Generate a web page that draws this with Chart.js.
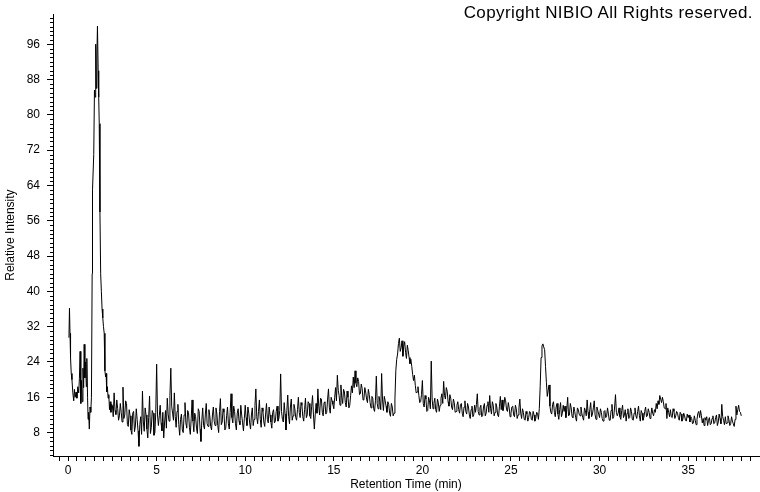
<!DOCTYPE html>
<html>
<head>
<meta charset="utf-8">
<script src="https://cdn.jsdelivr.net/npm/chart.js@4"></script>
<style>
  html, body { margin: 0; padding: 0; background: #fff; }
  #wrap { position: relative; width: 760px; height: 492px; }
  #copyright {
    position: absolute; top: 3px; right: 7px;
    font: 17px "Liberation Sans", Arial, sans-serif; line-height: 20px;
    letter-spacing: 0.4px; color: #000; white-space: nowrap;
  }
</style>
</head>
<body>
<div id="wrap">
  <canvas id="myChart" width="760" height="492"></canvas>
  <div id="copyright">Copyright NIBIO All Rights reserved.</div>
</div>
<script>
// start of the run, irregular samples (solvent front + big peak)
const earlyTimes = [0.05, 0.08, 0.11, 0.14, 0.18, 0.22, 0.27, 0.32, 0.36, 0.40, 0.45, 0.50, 0.55, 0.60, 0.64, 0.68, 0.72, 0.76, 0.80, 0.84, 0.88, 0.91, 0.95, 0.99, 1.03, 1.06, 1.10, 1.13, 1.16, 1.20, 1.24, 1.28, 1.32, 1.36, 1.38, 1.45, 1.49, 1.53, 1.56, 1.60, 1.63, 1.66, 1.70, 1.73, 1.76, 1.80, 1.84, 1.88, 1.92, 1.96, 2.00, 2.04, 2.08, 2.12, 2.15, 2.18, 2.22, 2.26, 2.30, 2.34, 2.38, 2.42, 2.46];
const earlyValues = [29.5, 36.2, 30.5, 25.0, 21.4, 20.0, 17.0, 15.2, 17.8, 16.0, 17.2, 15.8, 18.4, 17.0, 20.2, 26.4, 14.6, 19.8, 15.0, 22.6, 18.2, 28.0, 20.4, 24.0, 18.4, 24.8, 16.0, 11.0, 12.6, 8.8, 13.8, 12.6, 16.0, 44.0, 63.0, 71.0, 85.6, 84.0, 96.0, 86.0, 94.0, 100.1, 90.0, 84.0, 78.0, 58.0, 44.0, 40.0, 36.0, 34.0, 32.0, 30.5, 22.0, 20.6, 21.4, 17.2, 18.4, 15.8, 16.6, 13.2, 15.0, 12.6, 14.4];

// rest of the run: readings at 2.5, 2.6, ... min
const baseStart = 2.5;
const baseStep = 0.1;
const baseValues = [
  14.2, 17.0, 12.1, 13.5, 11.8,
  12.6, 18.3, 12.0, 14.6, 9.4, 11.8, 7.6, 12.8, 9.5, 11.0,
  4.9, 11.6, 17.4, 8.3, 12.0, 6.8, 16.3, 9.2, 12.4, 8.0,
  23.5, 9.6, 14.2, 8.4, 6.8, 13.0, 15.8, 10.6, 22.6, 12.4,
  17.0, 9.2, 14.4, 7.4, 12.2, 8.0, 14.8, 9.0, 12.6, 7.6,
  15.4, 8.2, 11.6, 7.8, 12.8, 6.0, 13.6, 8.8, 14.6, 9.4,
  11.8, 8.6, 13.8, 9.6, 12.2, 8.0, 15.7, 10.4, 12.6, 9.0,
  13.8, 8.8, 16.8, 10.2, 12.8, 8.6, 13.4, 9.8, 12.0, 8.4,
  14.2, 9.6, 12.4, 8.8, 13.6, 11.0, 17.9, 10.0, 15.4, 9.2,
  12.8, 9.4, 14.6, 10.2, 12.0, 9.0, 13.2, 10.6, 14.0, 11.2,
  21.3, 11.0, 14.8, 8.6, 16.5, 10.0, 15.6, 11.8, 13.4, 10.8,
  16.0, 11.4, 14.2, 10.6, 15.8, 12.0, 14.6, 11.2, 16.4, 8.8,
  14.6, 17.9, 12.0, 15.6, 11.8, 15.0, 12.6, 17.9, 12.4, 15.2,
  13.4, 18.2, 21.0, 16.4, 18.8, 14.6, 17.2, 13.8, 16.0, 14.2,
  18.6, 20.6, 22.0, 18.4, 19.6, 16.8, 18.0, 15.6, 17.2, 14.8,
  16.6, 13.6, 15.8, 12.8, 20.8, 13.4, 15.0, 21.4, 13.0, 15.2,
  12.6, 14.4, 11.7, 13.8, 12.4, 22.0, 25.8, 29.4, 27.2, 25.3,
  28.6, 24.8, 26.6, 23.6, 23.0, 19.8, 18.7, 17.2, 16.4, 15.0,
  19.8, 13.8, 15.6, 13.0, 15.2, 24.2, 13.4, 15.8, 12.6, 14.8,
  14.2, 16.8, 19.6, 15.6, 17.4, 14.0, 15.8, 13.2, 14.8, 12.8,
  15.0, 12.4, 14.6, 11.6, 15.2, 12.2, 13.8, 11.2, 14.0, 12.0,
  12.6, 16.8, 12.0, 14.2, 11.8, 14.6, 12.4, 15.0, 16.4, 12.2,
  14.2, 12.6, 13.8, 11.6, 16.2, 15.4, 14.0, 15.2, 12.8, 13.6,
  12.4, 14.0, 11.6, 13.4, 12.0, 15.6, 11.2, 12.6, 10.8, 12.2,
  11.4, 12.6, 10.8, 12.0, 11.2, 12.4, 13.5, 25.0, 28.1, 26.8,
  19.4, 17.6, 14.0, 12.2, 15.0, 11.6, 14.6, 11.0, 14.8, 12.4,
  12.8, 11.4, 16.0, 12.0, 13.6, 11.4, 12.8, 10.6, 13.2, 11.8,
  12.4, 10.8, 13.0, 15.4, 11.2, 14.8, 12.2, 15.2, 11.0, 13.0,
  11.4, 12.6, 10.6, 13.0, 11.8, 12.2, 10.8, 14.4, 11.6, 16.6,
  11.8, 13.6, 11.0, 14.2, 12.0, 10.6, 13.4, 11.4, 12.8, 10.8,
  13.6, 11.2, 14.0, 10.6, 12.4, 11.4, 13.8, 11.8, 12.6, 12.0,
  12.4, 13.2, 14.6, 15.2, 16.4, 14.8, 15.0, 13.4, 11.2, 12.6,
  13.2, 11.4, 12.8, 11.8, 12.4, 10.8, 12.2, 11.0, 11.8, 10.6,
  11.4, 10.4, 11.2, 10.2, 10.8, 11.0, 12.8, 13.0, 10.2, 9.6,
  10.8, 9.6, 11.4, 10.0, 11.8, 10.2, 12.0, 10.4, 11.2, 14.4,
  10.8, 11.6, 10.2, 11.0, 10.0, 10.6, 9.4, 14.0, 13.2, 12.8,
  11.8
];

// the readings in between: 2.55, 2.65, ... min
const midStart = 2.55;
const midValues = [
  11.6, 13.0, 15.4, 10.8, 14.6,
  10.4, 11.2, 15.2, 9.8, 13.2, 8.6, 12.4, 8.2, 13.4, 8.4,
  9.8, 7.6, 10.4, 13.6, 8.8, 11.4, 7.8, 13.0, 7.4, 12.6,
  12.0, 11.8, 10.2, 12.6, 10.4, 9.0, 12.2, 16.4, 14.0, 10.8,
  11.6, 12.8, 9.8, 11.0, 8.6, 12.0, 10.2, 13.0, 9.2, 11.2,
  10.6, 12.4, 9.0, 13.4, 8.8, 10.8, 9.6, 12.2, 10.0, 13.2,
  9.4, 12.0, 10.6, 13.6, 9.6, 12.8, 9.8, 13.4, 8.6, 11.8,
  10.0, 12.6, 11.4, 14.0, 10.0, 12.4, 10.6, 14.2, 10.2, 11.2,
  11.4, 13.8, 10.2, 12.0, 9.6, 14.2, 11.6, 12.8, 11.0, 13.6,
  10.4, 12.2, 11.0, 13.8, 10.4, 12.6, 10.2, 12.8, 10.6, 13.0,
  12.8, 10.4, 12.2, 13.0, 11.6, 13.8, 10.8, 14.4, 11.4, 13.2,
  12.6, 14.8, 11.6, 13.2, 11.4, 15.0, 11.8, 14.0, 12.2, 12.0,
  12.4, 14.0, 15.8, 12.6, 14.8, 12.2, 15.6, 13.6, 16.0, 14.4,
  16.0, 15.2, 17.6, 14.2, 16.0, 17.8, 14.8, 17.4, 13.6, 16.4,
  17.0, 18.2, 19.2, 20.4, 16.6, 19.0, 15.4, 18.2, 15.6, 17.8,
  14.8, 16.2, 13.4, 15.2, 14.6, 16.2, 13.2, 15.4, 16.2, 14.0,
  15.0, 12.4, 14.6, 11.8, 15.6, 24.6, 28.2, 26.4, 28.8, 27.6,
  26.2, 27.8, 25.0, 24.6, 21.2, 21.0, 17.0, 18.4, 14.8, 16.6,
  14.6, 16.4, 12.8, 16.0, 13.4, 15.6, 14.6, 13.2, 15.6, 12.8,
  15.8, 14.6, 16.4, 18.2, 15.0, 16.6, 13.8, 15.6, 12.6, 14.2,
  13.2, 14.4, 12.4, 13.8, 12.8, 14.6, 12.0, 13.2, 11.6, 14.2,
  14.4, 12.8, 13.6, 11.6, 13.8, 11.8, 14.2, 12.6, 13.4, 15.0,
  11.8, 14.6, 12.0, 14.0, 13.2, 13.0, 16.0, 13.2, 14.8, 11.6,
  13.8, 12.0, 14.2, 11.2, 13.6, 12.4, 13.4, 11.0, 12.8, 10.6,
  12.8, 11.0, 12.8, 10.6, 12.6, 11.0, 18.5, 27.6, 27.4, 23.0,
  16.2, 18.8, 12.6, 14.4, 12.6, 13.8, 12.2, 13.2, 11.6, 14.2,
  14.0, 13.2, 11.8, 14.6, 11.6, 13.8, 11.4, 13.6, 12.2, 13.8,
  11.4, 13.6, 11.8, 12.6, 13.2, 11.6, 13.6, 12.0, 13.8, 12.2,
  13.4, 11.2, 12.8, 11.4, 13.6, 10.8, 13.0, 11.2, 13.8, 12.6,
  12.4, 11.6, 13.0, 11.4, 13.2, 12.4, 11.2, 13.6, 11.0, 12.4,
  11.8, 12.8, 11.8, 13.0, 10.8, 12.8, 11.6, 13.4, 11.2, 13.6,
  11.8, 12.6, 13.4, 14.4, 15.6, 16.0, 13.6, 14.6, 13.6, 11.6,
  11.6, 13.4, 11.2, 12.8, 11.4, 12.6, 10.6, 12.4, 10.8, 12.2,
  12.0, 11.6, 10.0, 11.8, 9.8, 12.4, 11.4, 11.8, 11.2, 11.4,
  11.6, 10.8, 9.8, 11.2, 10.0, 11.4, 9.6, 12.2, 10.0, 11.6,
  9.8, 10.0, 11.8, 9.6, 11.6, 10.0, 11.0, 12.0, 14.2, 12.6
];

const xLabels = [0, 5, 10, 15, 20, 25, 30, 35];
const yLabels = [8, 16, 24, 32, 40, 48, 56, 64, 72, 80, 88, 96];

const points = earlyTimes.map((t, i) => ({ x: t, y: earlyValues[i] }));
baseValues.forEach((v, i) => {
  points.push({ x: +(baseStart + i * baseStep).toFixed(2), y: v });
});
midValues.forEach((v, i) => {
  points.push({ x: +(midStart + i * baseStep).toFixed(2), y: v });
});
points.sort((a, b) => a.x - b.x);

const FONT = { family: '"Liberation Sans", Arial, sans-serif', size: 12 };

// short ticks every 1 unit on the intensity axis
const minorTicks = {
  id: 'minorTicks',
  afterDraw(chart) {
    const y = chart.scales.y;
    const ctx = chart.ctx;
    ctx.save();
    ctx.strokeStyle = '#000';
    ctx.lineWidth = 1;
    ctx.beginPath();
    for (let v = Math.ceil(y.min); v <= y.max; v++) {
      if (yLabels.includes(v)) continue;
      const py = Math.round(y.getPixelForValue(v)) + 0.5;
      ctx.moveTo(y.right - 3, py);
      ctx.lineTo(y.right, py);
    }
    ctx.stroke();
    ctx.restore();
  }
};

const chart = new Chart(document.getElementById('myChart'), {
  type: 'line',
  data: {
    datasets: [{
      data: points,
      borderColor: '#000',
      borderWidth: 1,
      pointRadius: 0,
      tension: 0,
      fill: false
    }]
  },
  options: {
    responsive: false,
    animation: false,
    events: [],
    layout: { padding: { top: 0, right: 1, bottom: 0, left: 0 } },
    plugins: { legend: { display: false }, tooltip: { enabled: false } },
    scales: {
      x: {
        type: 'linear',
        min: -0.85,
        max: 39.0,
        afterBuildTicks: (scale) => {
          const ticks = [];
          for (let i = -1; i <= 77; i++) ticks.push({ value: i * 0.5 });
          scale.ticks = ticks;
        },
        afterFit: (scale) => { scale.height = 36; },
        ticks: {
          autoSkip: false,
          maxRotation: 0,
          padding: 2,
          color: '#000',
          font: FONT,
          callback: (value) => xLabels.includes(value) ? String(value) : ''
        },
        grid: { drawOnChartArea: false, tickLength: 5, color: '#000' },
        border: { color: '#000', width: 1 },
        title: {
          display: true,
          text: 'Retention Time (min)',
          color: '#000',
          font: FONT,
          padding: 0
        }
      },
      y: {
        min: 2.7,
        max: 102.8,
        afterBuildTicks: (scale) => {
          scale.ticks = yLabels.map(v => ({ value: v }));
        },
        afterFit: (scale) => { scale.width = 53; },
        ticks: { padding: 7, color: '#000', font: FONT },
        grid: { drawOnChartArea: false, tickLength: 6, color: '#000' },
        border: { color: '#000', width: 1 },
        title: {
          display: true,
          text: 'Relative Intensity',
          color: '#000',
          font: FONT,
          padding: 3
        }
      }
    }
  },
  plugins: [minorTicks]
});
</script>
</body>
</html>
